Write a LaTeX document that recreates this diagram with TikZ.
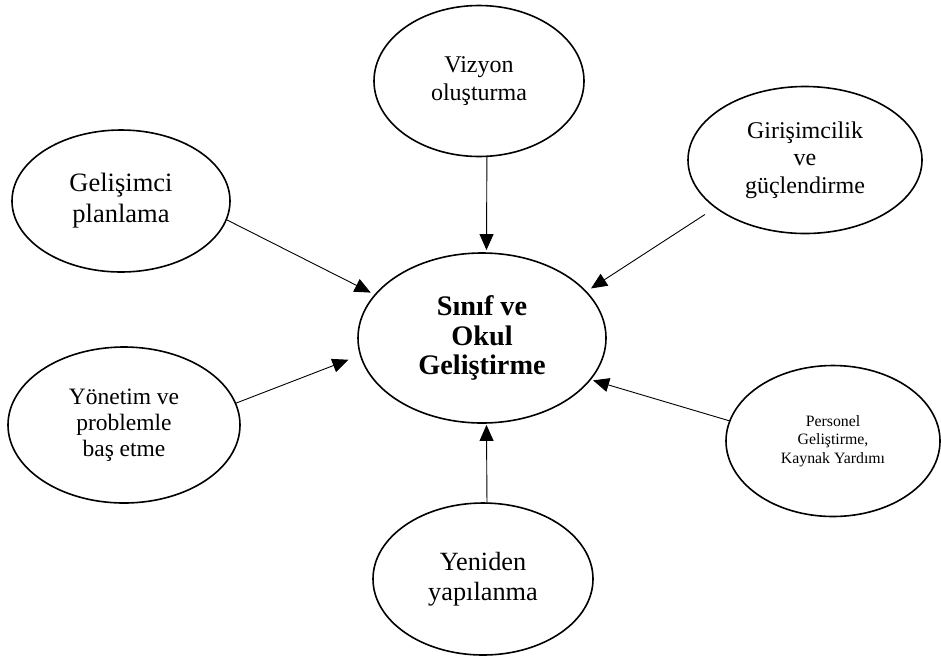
\documentclass[tikz,border=0pt]{standalone}
\usepackage{fontspec}
\setmainfont{Liberation Serif}
\usetikzlibrary{shapes.geometric,arrows.meta}
\tikzset{
  bub/.style={ellipse, draw, line width=1.6pt, inner sep=0pt, outer sep=0pt, align=center},
  arr/.style={-{Triangle[length=16pt,width=14pt]}, line width=0.9pt},
}
\begin{document}
\begin{tikzpicture}[x=1pt,y=-1pt]
\useasboundingbox (0,0) rectangle (941,657);
\node[bub, minimum width=248pt, minimum height=170pt, font=\bfseries\fontsize{28.3}{29.5}\selectfont] (C) at (482,338) {Sınıf ve\\Okul\\Geliştirme};
\node[bub, minimum width=210pt, minimum height=151pt, font=\fontsize{24}{28}\selectfont] (V) at (479,81) {Vizyon\\oluşturma};
\node[bub, minimum width=218pt, minimum height=142pt, font=\fontsize{26.5}{31}\selectfont] (G) at (121,201) {Gelişimci\\planlama};
\node[bub, minimum width=234pt, minimum height=147pt, font=\fontsize{24}{27.5}\selectfont] (R) at (805,160) {Girişimcilik\\ve\\güçlendirme};
\node[bub, minimum width=232pt, minimum height=156pt, font=\fontsize{23.5}{26}\selectfont] (Y) at (124,425) {Yönetim ve\\problemle\\baş etme};
\node[bub, minimum width=214pt, minimum height=151pt, font=\fontsize{15.8}{18.5}\selectfont] (P) at (833,441) {Personel\\Geliştirme,\\Kaynak Yardımı};
\node[bub, minimum width=220pt, minimum height=152pt, font=\fontsize{26.3}{30}\selectfont] (N) at (483,579) {Yeniden\\yapılanma};
\draw[arr, shorten >=3pt] (V.-84.7) -- (C.87.4);
\draw[arr, shorten >=5pt] (G.-10) -- (C.158);
\draw[arr, shorten <=13pt, shorten >=6pt] (R.208.6) -- (C.24.8);
\draw[arr, shorten >=13pt] (Y.11.5) -- (C.188);
\draw[arr, shorten >=3pt] (P.169.8) -- (C.-21.8);
\draw[arr, shorten >=2pt] (N.87.7) -- (C.-87.4);
\end{tikzpicture}
\end{document}
